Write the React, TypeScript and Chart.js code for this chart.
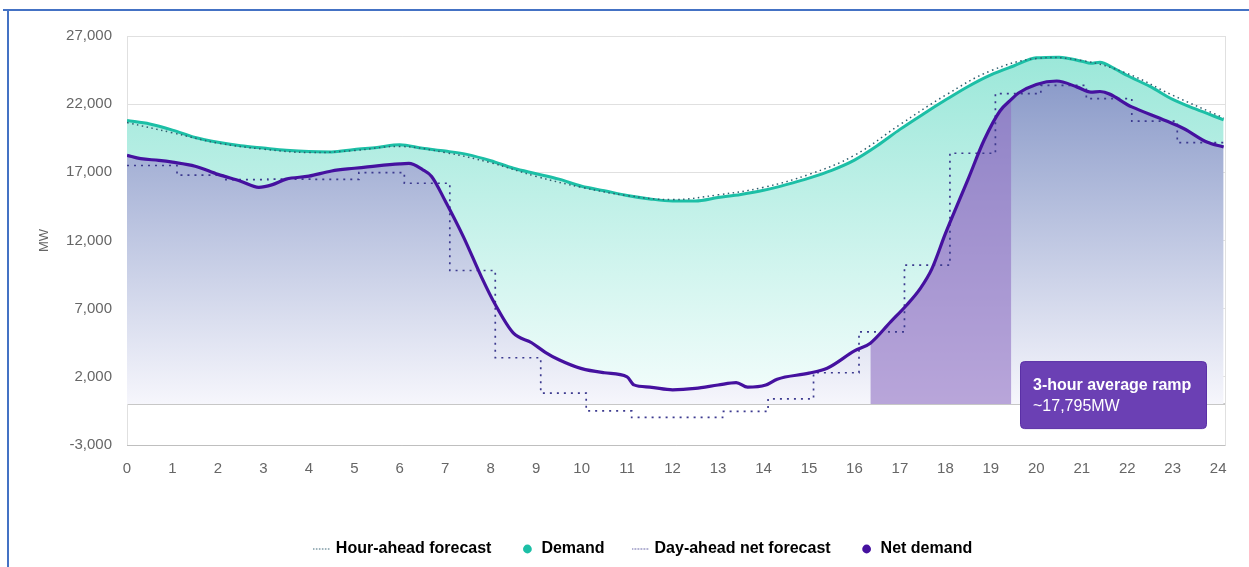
import React, { useEffect, useRef } from 'react';
import { Chart, registerables } from 'chart.js';

Chart.register(...registerables);

// ---------- data ----------
const demandHours = [0, 0.5, 1, 1.5, 2, 2.5, 3, 3.5, 4, 4.5, 5, 5.5, 6, 6.5, 7, 7.5, 8, 8.5, 9, 9.5, 10, 10.5, 11, 11.5, 12, 12.5, 13, 13.5, 14, 14.5, 15, 15.5, 16, 16.5, 17, 17.5, 18, 18.5, 19, 19.5, 20, 20.5, 21, 21.2, 21.4, 21.7, 22, 22.5, 23, 23.5, 24.12];
const demandMW = [20800, 20550, 20100, 19550, 19200, 18950, 18780, 18620, 18520, 18500, 18680, 18830, 19020, 18760, 18560, 18300, 17850, 17300, 16900, 16500, 15980, 15650, 15300, 15050, 14900, 14900, 15150, 15380, 15680, 16100, 16580, 17150, 17900, 18950, 20150, 21250, 22300, 23300, 24150, 24800, 25400, 25450, 25150, 25000, 25080, 24650, 24100, 23300, 22350, 21650, 20850];

const netHours = [0, 0.3, 0.7, 1, 1.5, 2, 2.5, 2.9, 3.2, 3.5, 4, 4.5, 5, 5.5, 6, 6.2, 6.5, 6.7, 7, 7.4, 7.8, 8.1, 8.5, 8.9, 9.2, 9.5, 10, 10.5, 11, 11.15, 11.5, 12, 12.5, 13, 13.4, 13.65, 14.05, 14.3, 15, 15.4, 16, 16.35, 16.8, 17.15, 17.45, 17.7, 18, 18.5, 18.85, 19.2, 19.45, 19.6, 20, 20.45, 20.9, 21.2, 21.4, 22.1, 22.85, 23.25, 23.75, 24.12];
const netMW = [18250, 18000, 17880, 17750, 17450, 16850, 16350, 15900, 16100, 16500, 16720, 17100, 17300, 17480, 17620, 17650, 17200, 16700, 14900, 12270, 9300, 7300, 5200, 4500, 3800, 3250, 2600, 2300, 2000, 1410, 1250, 1050, 1150, 1400, 1580, 1240, 1400, 1830, 2270, 2630, 3900, 4470, 6050, 7270, 8490, 9900, 12500, 16500, 19350, 21500, 22350, 22800, 23450, 23700, 23250, 22880, 22930, 21800, 20780, 20200, 19220, 18860];

const hourAheadHours = [0, 1, 2, 3, 4, 5, 6, 7, 8, 9, 10, 11, 12, 13, 14, 15, 16, 17, 18, 19, 20, 21, 22, 23, 24.12];
const hourAheadMW = [20650, 19900, 19150, 18700, 18450, 18600, 18900, 18450, 17700, 16700, 15900, 15300, 15000, 15350, 15900, 16850, 18250, 20500, 22650, 24450, 25350, 25200, 24250, 22650, 21000];

const dayAheadHours = [0, 1, 2, 3, 4, 5, 6, 7, 8, 9, 10, 11, 12, 13, 14, 15, 16, 17, 18, 19, 20, 21, 22, 23, 24.12];
const dayAheadMW = [17500, 16800, 16470, 16500, 16480, 16980, 16200, 9800, 3400, 800, -500, -980, -980, -540, 390, 2300, 5300, 10200, 18400, 22770, 23380, 22400, 20750, 19180, 19180];

const RAMP_START = 16.35;
const RAMP_END = 19.45;
const RAMP_TITLE = '3-hour average ramp';
const RAMP_VALUE = '~17,795MW';

const Y_MIN = -3000;
const Y_MAX = 27000;
const Y_STEP = 5000;
const X_MAX = 24.15;

const LEGEND_LABELS = ['Hour-ahead forecast', 'Demand', 'Day-ahead net forecast', 'Net demand'];

// ---------- styles ----------
const FONT = "'Liberation Sans', Arial, sans-serif";
const DEMAND_COLOR = '#1cbfa6';
const NET_COLOR = '#45119f';
const HOUR_AHEAD_COLOR = '#2f5d6e';
const DAY_AHEAD_COLOR = '#3c3a8f';
const STEP_SHIFT = 0.1;

const pts = (xs: number[], ys: number[]) => xs.map((x, i) => ({ x, y: ys[i] }));

function dotCanvas(color: string) {
  const c = document.createElement('canvas');
  c.width = 18;
  c.height = 3;
  const g = c.getContext('2d')!;
  g.fillStyle = color;
  for (let i = 0; i < 18; i += 3) g.fillRect(i, 1, 1.5, 1);
  return c;
}

function vGrad(chart: any, top: string, bottom: string) {
  const { ctx, chartArea, scales } = chart;
  if (!chartArea || !scales || !scales.y) return top;
  const y0 = chartArea.top;
  const y1 = scales.y.getPixelForValue(0);
  const g = ctx.createLinearGradient(0, y0, 0, y1);
  g.addColorStop(0, top);
  g.addColorStop(1, bottom);
  return g;
}

const framePlugin = {
  id: 'frameAndNote',
  afterDatasetsDraw(chart: any) {
    const { ctx, chartArea } = chart;
    ctx.save();
    ctx.strokeStyle = 'rgba(0,0,0,0.12)';
    ctx.lineWidth = 1;
    ctx.beginPath();
    ctx.moveTo(chartArea.right + 0.5, chartArea.top);
    ctx.lineTo(chartArea.right + 0.5, chartArea.bottom);
    ctx.stroke();
    ctx.restore();
  },
  afterDraw(chart: any) {
    const { ctx, chartArea, scales } = chart;
    const zeroY = scales.y.getPixelForValue(0);
    const w = 186;
    const h = 67;
    const x = chartArea.right - 205;
    const y = zeroY - 43;
    ctx.save();
    ctx.beginPath();
    (ctx as any).roundRect(x + 0.5, y + 0.5, w, h, 4);
    ctx.fillStyle = '#6b40b4';
    ctx.fill();
    ctx.strokeStyle = '#5a2fa6';
    ctx.lineWidth = 1;
    ctx.stroke();
    ctx.fillStyle = '#ffffff';
    ctx.textBaseline = 'middle';
    ctx.textAlign = 'left';
    ctx.font = `bold 16px ${FONT}`;
    ctx.fillText(RAMP_TITLE, x + 13, y + 24);
    ctx.font = `16px ${FONT}`;
    ctx.fillText(RAMP_VALUE, x + 13, y + 45);
    ctx.restore();
  },
};

export default function App() {
  const ref = useRef<HTMLCanvasElement | null>(null);

  useEffect(() => {
    if (!ref.current) return;
    const netPoints = pts(netHours, netMW);
    const rampPoints = netPoints.filter((p) => p.x >= RAMP_START && p.x <= RAMP_END);
    const dayAheadPoints = dayAheadHours.map((h, i) => ({ x: h === 0 ? h : h + STEP_SHIFT, y: dayAheadMW[i] }));
    const hourAheadMarker = dotCanvas(HOUR_AHEAD_COLOR);
    const dayAheadMarker = dotCanvas(DAY_AHEAD_COLOR);

    const chart = new Chart(ref.current, {
      type: 'line',
      data: {
        datasets: [
          {
            label: LEGEND_LABELS[0],
            data: pts(hourAheadHours, hourAheadMW),
            borderColor: HOUR_AHEAD_COLOR,
            borderWidth: 1.5,
            borderDash: [1.5, 3.5],
            fill: false,
            tension: 0.4,
            order: 1,
          },
          {
            label: LEGEND_LABELS[3],
            data: netPoints,
            borderColor: NET_COLOR,
            borderWidth: 3.2,
            fill: false,
            cubicInterpolationMode: 'monotone',
            order: 2,
          },
          {
            label: LEGEND_LABELS[2],
            data: dayAheadPoints,
            borderColor: DAY_AHEAD_COLOR,
            borderWidth: 1.7,
            borderDash: [2, 5],
            stepped: true,
            fill: false,
            order: 3,
          },
          {
            label: LEGEND_LABELS[1],
            data: pts(demandHours, demandMW),
            borderColor: DEMAND_COLOR,
            borderWidth: 3,
            cubicInterpolationMode: 'monotone',
            fill: 5,
            backgroundColor: (c: any) => vGrad(c.chart, 'rgb(150,230,215)', 'rgb(244,253,252)'),
            order: 4,
          },
          {
            label: 'ramp',
            data: rampPoints,
            borderWidth: 0,
            borderColor: 'rgba(0,0,0,0)',
            cubicInterpolationMode: 'monotone',
            fill: 'origin',
            backgroundColor: 'rgba(143,111,195,0.6)',
            order: 5,
          },
          {
            label: 'netFill',
            data: netPoints,
            borderWidth: 0,
            borderColor: 'rgba(0,0,0,0)',
            cubicInterpolationMode: 'monotone',
            fill: 'origin',
            backgroundColor: (c: any) => vGrad(c.chart, 'rgb(124,142,194)', 'rgb(246,246,252)'),
            order: 6,
          },
        ],
      },
      options: {
        animation: false,
        responsive: true,
        maintainAspectRatio: false,
        events: [],
        layout: { padding: { left: 63, right: 24, top: 36, bottom: 0 } },
        elements: { point: { radius: 0 } },
        scales: {
          x: {
            type: 'linear',
            min: 0,
            max: X_MAX,
            grid: { display: false, drawTicks: false },
            border: { display: true, color: 'rgba(0,0,0,0.15)' },
            ticks: {
              stepSize: 1,
              includeBounds: false,
              padding: 15,
              color: '#666',
              font: { family: FONT, size: 15 },
              maxRotation: 0,
              autoSkip: false,
              callback: (v: any) => String(v),
            },
            afterFit: (s: any) => {
              s.height = 66;
            },
          },
          y: {
            type: 'linear',
            min: Y_MIN,
            max: Y_MAX,
            z: 1,
            grid: {
              drawTicks: false,
              color: (c: any) => (c.tick && c.tick.value === 0 ? 'rgba(0,0,0,0.22)' : 'rgba(0,0,0,0.12)'),
              lineWidth: (c: any) => (c.tick && c.tick.value === 0 ? 2 : 1),
            },
            border: { display: true, color: 'rgba(0,0,0,0.12)' },
            ticks: {
              stepSize: Y_STEP,
              padding: 15,
              color: '#666',
              font: { family: FONT, size: 15 },
              callback: (v: any) => (Number(v) === 0 ? '' : Number(v).toLocaleString('en-US')),
            },
            afterBuildTicks: (s: any) => {
              if (!s.ticks.some((t: any) => t.value === 0)) {
                s.ticks.push({ value: 0 });
                s.ticks.sort((a: any, b: any) => a.value - b.value);
              }
            },
            title: {
              display: true,
              text: 'MW',
              color: '#666',
              font: { family: FONT, size: 13 },
              padding: { top: -26, bottom: 0 },
            },
            afterFit: (s: any) => {
              s.width = 64;
            },
          },
        },
        plugins: {
          tooltip: { enabled: false },
          legend: {
            position: 'bottom',
            labels: {
              usePointStyle: true,
              boxWidth: 12,
              boxHeight: 6.2,
              padding: 30,
              color: '#1a1a1a',
              font: { family: FONT, size: 16, weight: 'bold' },
              generateLabels: () => [
                { text: LEGEND_LABELS[0], pointStyle: hourAheadMarker as any, fillStyle: 'rgba(0,0,0,0)', strokeStyle: 'rgba(0,0,0,0)', lineWidth: 0, hidden: false, datasetIndex: 0 },
                { text: LEGEND_LABELS[1], pointStyle: 'circle', fillStyle: DEMAND_COLOR, strokeStyle: DEMAND_COLOR, lineWidth: 0, hidden: false, datasetIndex: 3 },
                { text: LEGEND_LABELS[2], pointStyle: dayAheadMarker as any, fillStyle: 'rgba(0,0,0,0)', strokeStyle: 'rgba(0,0,0,0)', lineWidth: 0, hidden: false, datasetIndex: 2 },
                { text: LEGEND_LABELS[3], pointStyle: 'circle', fillStyle: NET_COLOR, strokeStyle: NET_COLOR, lineWidth: 0, hidden: false, datasetIndex: 1 },
              ],
            },
          },
        },
      } as any,
      plugins: [framePlugin],
    });
    return () => chart.destroy();
  }, []);

  return (
    <div style={{ position: 'absolute', left: 0, top: 0, width: 1249, height: 567, overflow: 'hidden', background: '#fff' }}>
      <div style={{ position: 'absolute', left: 0, top: 0, width: 1249, height: 567 }}>
        <canvas ref={ref} />
      </div>
      <div style={{ position: 'absolute', left: 3, top: 9, width: 1246, height: 2, background: '#4472c4' }} />
      <div style={{ position: 'absolute', left: 7, top: 9, width: 2, height: 558, background: '#4472c4' }} />
    </div>
  );
}
